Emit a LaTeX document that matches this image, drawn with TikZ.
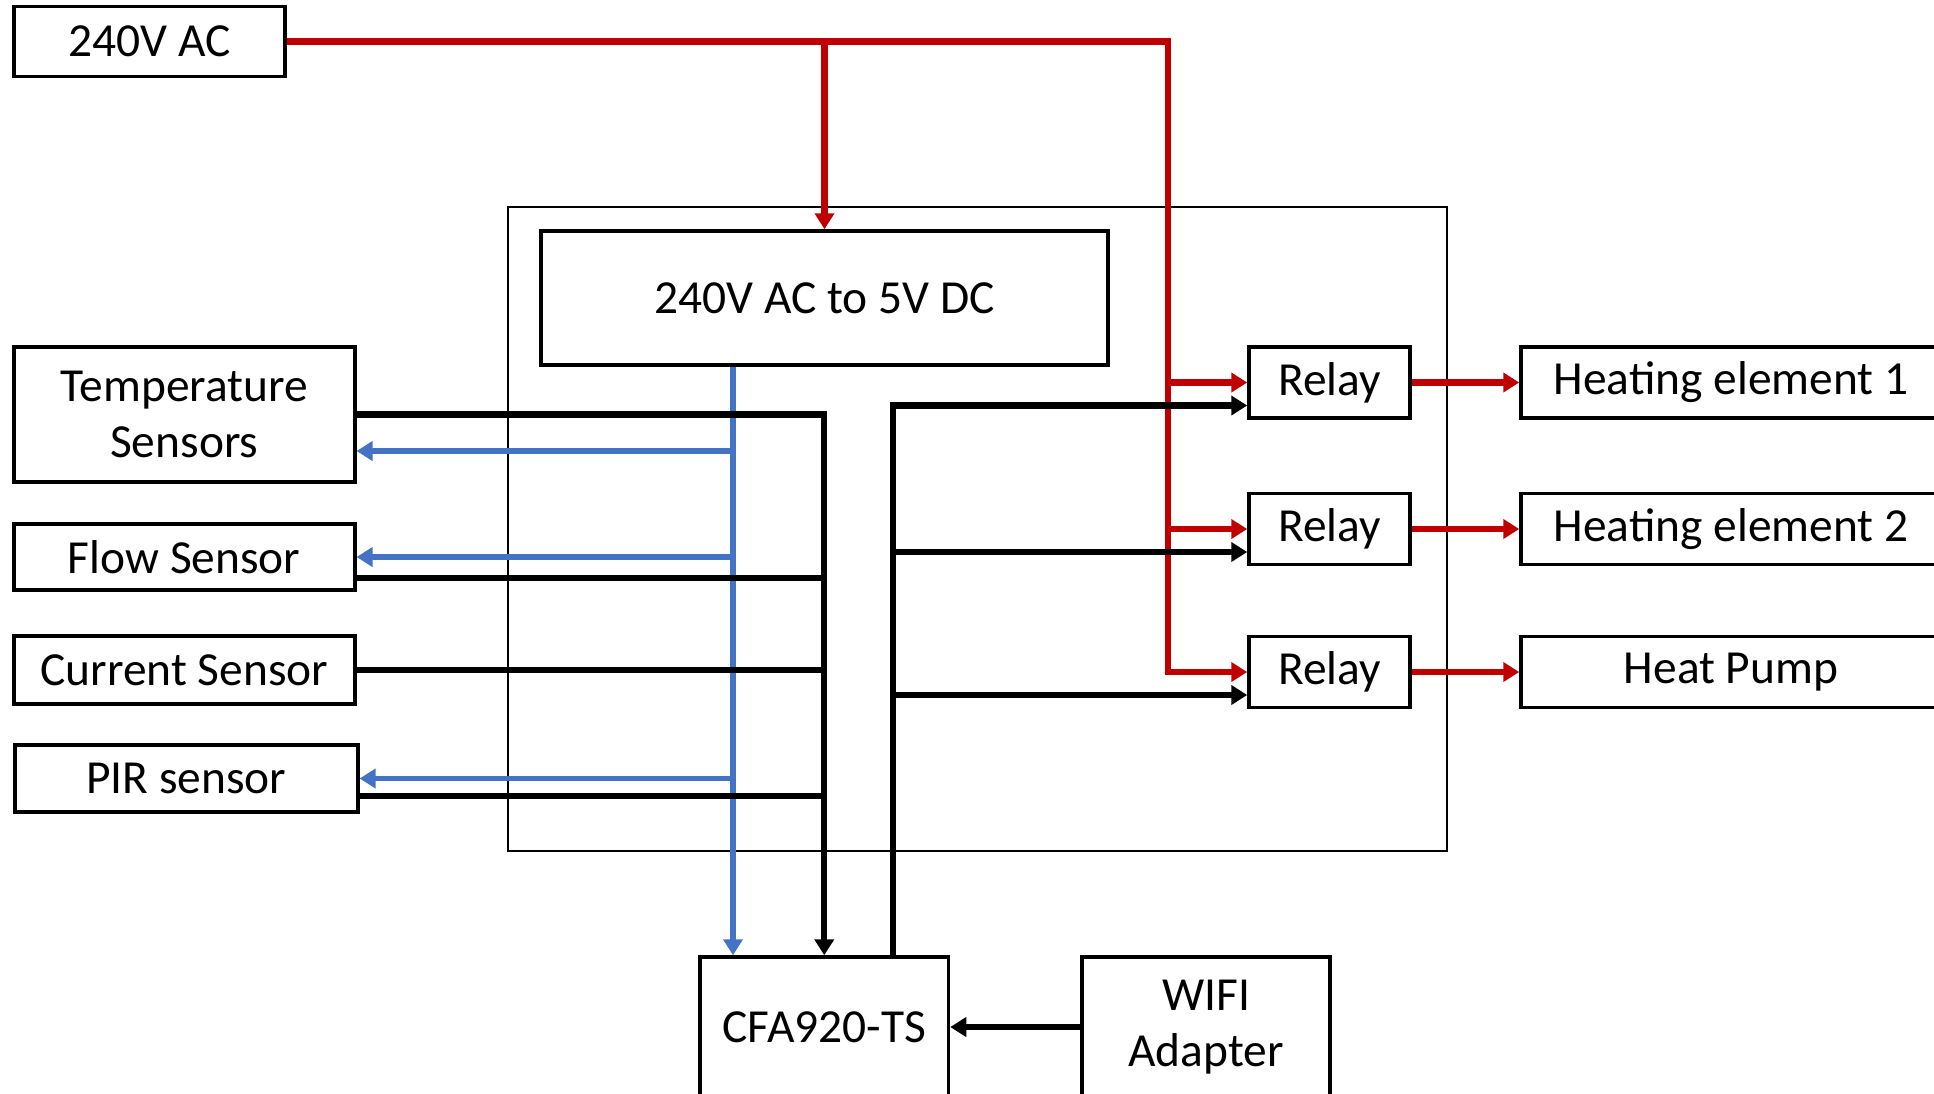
\documentclass[tikz,border=0pt]{standalone}
\usepackage{fontspec}
\setmainfont{Carlito}
\usetikzlibrary{calc,arrows.meta,positioning}
\definecolor{acred}{RGB}{192,0,0}
\definecolor{dcblue}{RGB}{68,114,196}
\tikzset{>={Triangle[length=1.6mm,width=1.9mm]}}
\tikzset{block/.style={draw, line width=1pt, inner sep=0pt, align=center, font=\fontsize{13.5}{16}\selectfont},
power/.style={->, acred, line width=1.8pt},
supply/.style={->, dcblue, line width=1.5pt},
signal/.style={black, line width=1.8pt}}

\begin{document}
\begin{tikzpicture}
\useasboundingbox (0,0) rectangle (19.34,-10.93);
\node[draw, line width=0.8pt, minimum width=9.39cm, minimum height=6.44cm] (board) at (9.775,-5.29) {};
\node[block, minimum width=2.71cm, minimum height=0.70cm] (ac) at (1.495,-0.414) {240V AC};
\node[block, minimum width=5.67cm, minimum height=1.34cm] (conv) at (8.245,-2.98) {240V AC to 5V DC};
\node[block, minimum width=3.41cm, minimum height=1.35cm] (temp) at (1.843,-4.145) {Temperature\\Sensors};
\node[block, minimum width=3.41cm, minimum height=0.66cm] (flow) at (1.843,-5.57) {Flow Sensor};
\node[block, minimum width=3.41cm, minimum height=0.68cm] (curr) at (1.843,-6.70) {Current Sensor};
\node[block, minimum width=3.43cm, minimum height=0.67cm] (pir) at (1.864,-7.785) {PIR sensor};
\node[block, minimum width=2.485cm, minimum height=1.40cm] (cfa) at (8.2425,-10.27) {CFA920-TS};
\node[block, minimum width=2.48cm, minimum height=1.40cm] (wifi) at (12.06,-10.27) {WIFI\\Adapter};
\foreach \n/\y/\load in {1/-3.825/Heating element 1,2/-5.29/Heating element 2,3/-6.72/Heat Pump}{
  \node[block, minimum width=1.61cm, minimum height=0.71cm] (relay\n) at (13.295,\y) {Relay};
  \node[block, minimum width=4.2cm, minimum height=0.71cm] (load\n) at (17.31,\y) {\load};
  \draw[power] (relay\n.east) -- (load\n.west);
}

\coordinate (bus) at (11.68,-0.414);
\draw[power] (ac.east) -- (bus) |- (relay3.west);
\draw[power] (bus |- relay1.west) -- (relay1.west);
\draw[power] (bus |- relay2.west) -- (relay2.west);
\draw[power] (ac.east -| conv.north) -- (conv.north);

\coordinate (tap) at (7.33,0 |- conv.south);
\draw[supply] (tap) -- (tap |- cfa.north);
\draw[supply] ([yshift=-3.65mm]temp.east -| tap) -- ([yshift=-3.65mm]temp.east);
\draw[supply] (flow.east -| tap) -- (flow.east);
\draw[supply] (pir.east -| tap) -- (pir.east);

\draw[signal, ->] (temp.east) -| (cfa.north);
\draw[signal] ([yshift=-2.1mm]flow.east) -- ([yshift=-2.1mm]flow.east -| cfa.north);
\draw[signal] (curr.east) -- (curr.east -| cfa.north);
\draw[signal] ([yshift=-1.75mm]pir.east) -- ([yshift=-1.75mm]pir.east -| cfa.north);

\coordinate (ctl) at ([xshift=6.9mm]cfa.north);
\draw[signal, ->] (ctl) |- ([yshift=-2.3mm]relay1.west);
\draw[signal, ->] ([yshift=-2.3mm]relay2.west -| ctl) -- ([yshift=-2.3mm]relay2.west);
\draw[signal, ->] ([yshift=-2.3mm]relay3.west -| ctl) -- ([yshift=-2.3mm]relay3.west);
\draw[signal, ->] (wifi.west) -- (cfa.east);
\end{tikzpicture}
\end{document}
